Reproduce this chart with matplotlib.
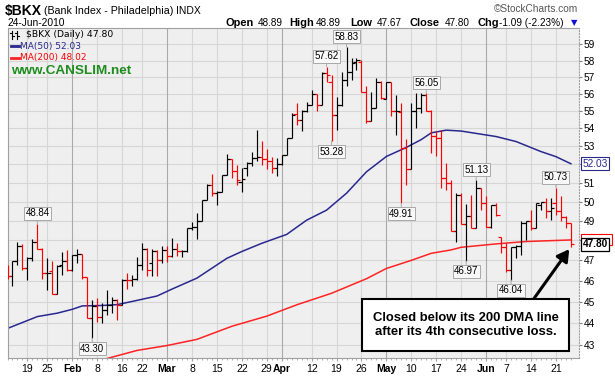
import numpy as np
import pandas as pd
import matplotlib
matplotlib.use("Agg")
import matplotlib.pyplot as plt
import matplotlib.transforms as mtransforms
from matplotlib.lines import Line2D
from matplotlib.patches import Rectangle
from matplotlib.ticker import NullLocator

plt.rcParams['font.family'] = ['Liberation Sans', 'DejaVu Sans']

# trading days (Jan 12 only peeks in at the left edge)
holidays = pd.to_datetime(["2010-01-18", "2010-02-15", "2010-04-02", "2010-05-31"])
dates = pd.bdate_range("2010-01-12", "2010-06-24")
dates = dates[~dates.isin(holidays)]

prev_close = 46.70  # close before the first bar

opens = [46.62,
         46.25, 46.95, 47.74, 46.62, 47.11, 47.90, 47.58, 46.38, 46.46, 45.37,
         46.79, 46.95, 46.54, 47.26, 47.32, 46.19, 44.23, 44.80, 44.26, 44.59,
         44.85, 45.09, 44.85, 46.06, 46.03, 46.09, 46.79, 47.58, 46.86, 47.44,
         47.00, 47.52, 47.22, 47.56, 47.44, 47.44, 48.62, 48.70, 49.01, 50.06,
         50.89, 50.44, 50.53, 51.39, 52.28, 51.66, 51.06, 51.77, 52.06, 52.33,
         52.42, 52.28, 52.20, 51.79, 52.02, 52.52, 53.45, 54.82, 54.50, 55.01,
         55.35, 55.97, 55.35, 57.23, 56.73, 54.79, 55.35, 56.83, 57.33, 57.89,
         57.93, 56.13, 54.41, 55.16, 56.69, 55.70, 56.69, 54.98, 54.94, 52.90,
         51.72, 54.98, 55.16, 55.93, 55.01, 53.55, 53.45, 51.24, 50.98, 48.48,
         50.37, 48.82, 49.25, 48.65, 50.71, 49.91, 48.70, 49.83, 48.19, 47.68,
         46.53, 47.68, 47.72, 48.90, 48.97, 48.62, 49.83, 49.95, 49.48, 49.91,
         49.48, 49.21, 48.89]
highs = [46.75,
         46.95, 47.92, 47.80, 47.19, 48.07, 48.84, 47.63, 47.11, 46.95, 46.79,
         47.42, 47.50, 47.26, 47.58, 47.32, 46.19, 45.09, 45.16, 44.96, 45.56,
         45.24, 45.15, 46.09, 46.38, 46.30, 47.19, 47.87, 47.60, 47.57, 47.52,
         47.69, 47.72, 48.11, 47.89, 47.52, 48.65, 48.96, 49.39, 50.09, 50.94,
         51.48, 50.58, 51.42, 52.55, 52.28, 51.97, 51.77, 52.10, 52.65, 53.92,
         53.30, 52.83, 52.39, 52.33, 52.52, 53.45, 54.87, 55.45, 55.05, 55.55,
         56.24, 55.97, 57.33, 57.62, 57.13, 55.84, 57.33, 58.83, 58.14, 58.14,
         58.03, 56.44, 56.13, 56.97, 56.77, 56.69, 56.69, 55.93, 55.45, 53.42,
         55.45, 56.03, 56.03, 56.05, 55.05, 53.85, 53.91, 52.05, 51.15, 50.45,
         50.45, 49.85, 50.35, 51.13, 50.71, 50.29, 49.83, 49.91, 48.19, 47.86,
         47.68, 47.77, 48.97, 48.97, 49.57, 49.91, 50.00, 50.17, 50.17, 50.73,
         50.29, 49.23, 48.89]
lows = [46.10,
        45.75, 46.79, 46.54, 46.06, 46.95, 47.55, 46.09, 45.56, 45.37, 45.37,
        46.30, 46.46, 46.46, 46.87, 46.09, 44.23, 43.30, 44.07, 44.02, 44.39,
        44.46, 44.15, 44.85, 45.59, 45.75, 46.06, 46.54, 46.25, 46.21, 46.21,
        46.86, 46.94, 47.19, 47.22, 47.19, 47.39, 48.53, 48.06, 49.01, 50.06,
        50.27, 49.83, 50.53, 51.39, 51.24, 50.89, 50.48, 51.37, 51.88, 52.20,
        51.97, 51.73, 51.55, 51.37, 51.97, 52.52, 53.45, 54.20, 53.87, 54.94,
        55.35, 55.01, 55.35, 56.73, 53.28, 53.92, 55.26, 56.44, 56.83, 57.45,
        56.13, 54.31, 54.41, 55.16, 55.70, 55.70, 54.69, 53.64, 49.91, 50.88,
        51.72, 54.02, 54.88, 55.01, 52.60, 52.45, 50.72, 50.63, 48.48, 47.90,
        48.82, 46.97, 48.62, 48.65, 49.57, 48.70, 48.62, 49.23, 47.35, 46.45,
        46.04, 47.11, 47.27, 48.02, 48.53, 48.62, 49.57, 49.14, 49.06, 49.31,
        48.97, 48.62, 47.67]
closes = [46.25,
          46.95, 47.74, 46.62, 47.11, 47.90, 47.58, 46.38, 46.40, 45.37, 46.70,
          46.95, 46.54, 47.26, 47.32, 46.19, 44.23, 44.80, 44.26, 44.59, 44.85,
          45.09, 44.85, 46.06, 46.03, 46.09, 46.79, 47.58, 46.54, 47.44, 47.00,
          47.52, 47.22, 47.56, 47.44, 47.47, 48.62, 48.70, 49.01, 50.06, 50.89,
          50.44, 50.53, 51.39, 52.28, 51.66, 51.15, 51.19, 52.06, 52.33, 52.42,
          52.28, 52.20, 51.79, 52.02, 52.52, 53.45, 54.78, 54.50, 55.01, 55.35,
          55.97, 55.35, 57.23, 57.13, 54.79, 55.35, 56.83, 57.33, 57.83, 58.03,
          56.13, 54.41, 55.16, 56.69, 55.74, 56.69, 54.98, 55.01, 52.90, 51.72,
          54.98, 55.16, 55.93, 55.01, 53.55, 53.45, 51.24, 50.98, 48.48, 50.37,
          48.82, 49.25, 48.65, 50.71, 49.91, 48.70, 49.83, 49.31, 47.68, 46.53,
          47.68, 47.72, 48.90, 48.97, 48.62, 49.91, 49.95, 49.48, 49.65, 49.48,
          49.21, 48.89, 47.80]

# moving averages (bar position, value)
ma50_pos = [0, 6, 10, 13, 15, 19, 22, 25, 30, 33, 38, 44, 47, 51, 56, 60, 64, 68,
            72, 76, 80, 83, 85, 88, 91, 98, 102, 107, 110, 113]
ma50_val = [43.75, 44.30, 44.46, 44.64, 44.80, 44.82, 44.86, 45.01, 45.27, 45.60,
            46.13, 47.10, 47.44, 47.85, 48.30, 49.03, 49.55, 50.44, 51.59, 52.43,
            52.93, 53.37, 53.75, 53.90, 53.85, 53.54, 53.26, 52.70, 52.42, 52.03]
ma200_pos = [19, 26, 32, 38, 45, 52, 58, 65, 72, 76, 81, 85, 89, 91, 98, 104, 113]
ma200_val = [42.33, 42.75, 42.97, 43.25, 43.85, 44.32, 44.85, 45.40, 46.10, 46.60,
             47.00, 47.35, 47.52, 47.65, 47.82, 47.94, 48.02]

# highs / lows that carry a price tag
label_pos = [6, 17, 64, 65, 68, 79, 84, 92, 94, 101, 110]
label_kind = ["high", "low", "high", "low", "high", "low", "high", "low", "high", "low", "high"]

tick_dates = ["2010-01-19", "2010-01-25", "2010-02-01", "2010-02-08", "2010-02-16",
              "2010-02-22", "2010-03-01", "2010-03-08", "2010-03-15", "2010-03-22",
              "2010-03-29", "2010-04-01", "2010-04-12", "2010-04-19", "2010-04-26",
              "2010-05-03", "2010-05-10", "2010-05-17", "2010-05-24", "2010-06-01",
              "2010-06-07", "2010-06-14", "2010-06-21"]
price_ticks = list(range(43, 60))

W, H = 615, 377
fig = plt.figure(figsize=(W / 100, H / 100), dpi=100)
ax = fig.add_axes([7.5 / W, 1 - 358 / H, (579 - 7.5) / W, (358 - 27.5) / H])
ax.set_facecolor("#efefef")
ax.set_yscale("log")
ax.set_ylim(42.41, 60.05)
ax.set_xlim(0.1, 114.63)

x = np.arange(len(dates))
o = np.array(opens); h = np.array(highs); l = np.array(lows); c = np.array(closes)
prev = np.r_[prev_close, c[:-1]]
cols = np.where(c < prev, "#ff0000", "#000000")

# grid
tick_pos = [dates.get_loc(pd.Timestamp(d)) for d in tick_dates]
tick_lab, is_month = [], []
for p in tick_pos:
    d = dates[p]
    first = p == 0 or dates[p - 1].month != d.month
    is_month.append(first)
    tick_lab.append(d.strftime("%b") if first else str(d.day))
for v in price_ticks:
    ax.axhline(v, color="#d6d6d6", lw=0.8, zorder=0)
for p, m in zip(tick_pos, is_month):
    ax.axvline(p, color="#a9a9a9" if m else "#d6d6d6", lw=0.8, zorder=0)

# OHLC bars
ax.vlines(x, l, h, colors=cols, lw=0.85, zorder=3)
ax.hlines(o, x - 0.7, x, colors=cols, lw=0.85, zorder=3)
ax.hlines(c, x, x + 0.7, colors=cols, lw=0.85, zorder=3)

ax.plot(ma50_pos, ma50_val, color="#28288f", lw=1.1, zorder=2)
ax.plot(ma200_pos, ma200_val, color="#ff2222", lw=1.1, zorder=2)

for p, kind in zip(label_pos, label_kind):
    v = highs[p] if kind == "high" else lows[p]
    off = 7.5 if kind == "high" else -7.5
    ax.annotate(f"{v:.2f}", xy=(p, v), xytext=(0, off), textcoords="offset points",
                ha="center", va="center", fontsize=7, zorder=5,
                bbox=dict(boxstyle="square,pad=0.15", fc="#f8f8f8", ec="#a8a8a8", lw=0.7),
                arrowprops=dict(arrowstyle="-", color="#a8a8a8", lw=0.7, shrinkA=0, shrinkB=0))

# axes
ax.set_xticks(tick_pos)
ax.set_xticklabels(tick_lab)
for t, m in zip(ax.get_xticklabels(), is_month):
    if m:
        t.set_fontweight("bold")
ax.set_xticks(x, minor=True)
ax.tick_params(axis="x", which="major", length=2, color="#a0a0a0", labelsize=7.5, pad=2)
ax.tick_params(axis="x", which="minor", length=1.5, color="#a0a0a0", width=0.6)
ax.yaxis.tick_right()
ax.set_yticks(price_ticks)
# the value boxes on the right cover the labels next to them
covered = [ma50_val[-1], closes[-1]]
ax.set_yticklabels(["" if any(abs(v - b) < 0.45 for b in covered) else str(v)
                    for v in price_ticks])
ax.yaxis.set_minor_locator(NullLocator())
ax.tick_params(axis="y", length=2.5, color="#808080", labelsize=7.3, pad=1)
for s in ax.spines.values():
    s.set_color("#a0a0a0")
    s.set_linewidth(0.8)
ax.spines["right"].set_linestyle(":")

# value boxes on the right edge (the MA(200) box sits behind the close box)
yax = mtransforms.blended_transform_factory(ax.transAxes, ax.transData)
y200 = ax.transData.transform((0, ma200_val[-1]))[1]
fig.add_artist(Rectangle((581 / W, (y200 - 5.5) / H), 31 / W, 11 / H, transform=fig.transFigure,
                         fc="white", ec="#ff0000", lw=0.8, zorder=-1))
ax.text(1.006, closes[-1], f"{closes[-1]:.2f}", transform=yax, ha="left", va="center",
        fontsize=7.3, fontweight="bold", color="black", zorder=7, clip_on=False,
        bbox=dict(boxstyle="square,pad=0.15", fc="white", ec="black", lw=0.9))
ax.text(1.006, ma50_val[-1], f"{ma50_val[-1]:.2f}", transform=yax, ha="left", va="center",
        fontsize=7.3, color="#28288f", zorder=6, clip_on=False,
        bbox=dict(boxstyle="square,pad=0.15", fc="white", ec="#28288f", lw=0.8))


def ftext(px, py, s, **kw):
    fig.text(px / W, 1 - py / H, s, **kw)


# header
ftext(5, 15, "$BKX", fontsize=10, fontweight="bold", va="baseline")
ftext(44, 14.5, "(Bank Index - Philadelphia)", fontsize=7.7, va="baseline")
ftext(176, 14.5, "INDX", fontsize=7.5, va="baseline")
ftext(7, 25.5, "24-Jun-2010", fontsize=7.4, va="baseline")
ftext(578, 12, "\u00a9StockCharts.com", fontsize=7.3, color="#555555", ha="right", va="baseline")
head = [(225, "Open", True), (258, "48.89", False), (289, "High", True), (316, "48.89", False),
        (350, "Low", True), (377, "47.67", False), (410, "Close", True), (445, "47.80", False),
        (478, "Chg", True), (499, "-1.09 (-2.23%)", False)]
for px, s, b in head:
    ftext(px, 25.5, s, fontsize=7.9 if b else 7.2, fontweight="bold" if b else "normal",
          va="baseline")
ftext(571, 25.5, "\u25bc", fontsize=6, color="#1010d0", va="baseline", family="DejaVu Sans")

# legend block inside the chart
for bx in (12, 17):
    fig.add_artist(Line2D([bx / W, bx / W], [1 - 31 / H, 1 - 38.5 / H], color="k", lw=0.8))
    fig.add_artist(Line2D([(bx - 2) / W, bx / W], [1 - 33 / H, 1 - 33 / H], color="k", lw=0.8))
    fig.add_artist(Line2D([bx / W, (bx + 2) / W], [1 - 36 / H, 1 - 36 / H], color="k", lw=0.8))
ftext(26, 34.5, "$BKX (Daily) 47.80", fontsize=6.7, family="DejaVu Sans", va="center")
fig.add_artist(Line2D([11 / W, 19 / W], [1 - 46 / H, 1 - 46 / H], color="#28288f", lw=2))
ftext(20, 46, f"MA(50) {ma50_val[-1]:.2f}", fontsize=6.5, family="DejaVu Sans",
      color="#28288f", va="center")
fig.add_artist(Line2D([11 / W, 19 / W], [1 - 57.5 / H, 1 - 57.5 / H], color="#ff2222", lw=2))
ftext(20, 57.5, f"MA(200) {ma200_val[-1]:.2f}", fontsize=6.5, family="DejaVu Sans",
      color="#ff0000", va="center")
ftext(11, 71.5, "www.CANSLIM.net", fontsize=9.7, fontweight="bold", color="#1e8c1e", va="center")

# callout
ax.annotate("", xy=(x[-1], lows[-1]), xytext=(-27.5, -38.5), textcoords="offset points",
            annotation_clip=False, zorder=8,
            arrowprops=dict(arrowstyle="-|>,head_length=0.7,head_width=0.4", color="black",
                            lw=2.2, shrinkA=0, shrinkB=2))
fig.add_artist(Rectangle((362 / W, 1 - 351 / H), (569 - 362) / W, (351 - 299) / H,
                         transform=fig.transFigure, fc="white", ec="black", lw=1.5, zorder=9))
ftext(465.5, 325, "Closed below its 200 DMA line\nafter its 4th consecutive loss.",
      fontsize=9.4, fontweight="bold", ha="center", va="center", linespacing=1.3, zorder=10)

fig.savefig("out.png", dpi=100)
